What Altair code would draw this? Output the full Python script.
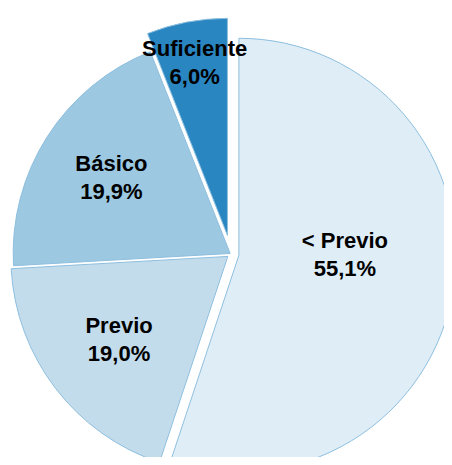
import math
import altair as alt
import pandas as pd

# ---- data ----
categories = ["< Previo", "Previo", "Básico", "Suficiente"]
values = [55.1, 19.0, 19.9, 6.0]

# ---- styles ----
colors = ["#DFEDF7", "#C3DCEC", "#9CC8E1", "#2A86C1"]
EXPLODE = [8, 4, 1, 19]          # explosion distance of each slice (px)
LABEL_R = [106, 137, 141, 175]   # distance of each label from its slice's vertex (px)
LABEL_NUDGE = [-0.16, 0, 0, 0]   # angular nudge of each label (radians)
CX, CY, R = 223, 246, 217

df = pd.DataFrame({
    "cat": categories,
    "value": values,
    "idx": list(range(len(categories))),
    "label": [f"{c}\n{v:.1f}".replace(".", ",") + "%" for c, v in zip(categories, values)],
})

base = (
    alt.Chart(df)
    .transform_joinaggregate(total="sum(value)")
    .transform_window(cum="sum(value)", sort=[alt.SortField("idx")], frame=[None, 0])
    .transform_calculate(start="(datum.cum - datum.value) / datum.total")
    .transform_calculate(end="datum.cum / datum.total")
    .transform_calculate(mid="PI * (datum.start + datum.end)")
    .transform_calculate(ex=f"{EXPLODE}[datum.idx]")
    .transform_calculate(lr=f"{LABEL_R}[datum.idx]")
    .transform_calculate(la=f"datum.mid + {LABEL_NUDGE}[datum.idx]")
    .transform_calculate(px=f"{CX} + datum.ex * sin(datum.mid)")
    .transform_calculate(py=f"{CY} - datum.ex * cos(datum.mid)")
    .transform_calculate(lx="datum.px + datum.lr * sin(datum.la)")
    .transform_calculate(ly="datum.py - datum.lr * cos(datum.la)")
)

arcs = base.mark_arc(radius=R, stroke="#8DBFDF", strokeWidth=1).encode(
    theta=alt.Theta("start:Q", scale=alt.Scale(domain=[0, 1], range=[0, 2 * math.pi]), stack=None),
    theta2="end:Q",
    x=alt.X("px:Q", scale=None, axis=None),
    y=alt.Y("py:Q", scale=None, axis=None),
    color=alt.Color("cat:N", scale=alt.Scale(domain=categories, range=colors), legend=None),
)

text = base.mark_text(
    font="Liberation Sans", fontWeight="bold", fontSize=22, lineBreak="\n",
    lineHeight=28, align="center", baseline="middle", color="black", dy=-14,
).encode(
    x=alt.X("lx:Q", scale=None, axis=None),
    y=alt.Y("ly:Q", scale=None, axis=None),
    text="label:N",
)

chart = (
    alt.layer(arcs, text)
    .properties(width=436, height=449, padding=0, autosize="none")
    .configure_view(stroke=None)
)

chart.save("out.html", embed_options={"renderer": "svg", "actions": False})
